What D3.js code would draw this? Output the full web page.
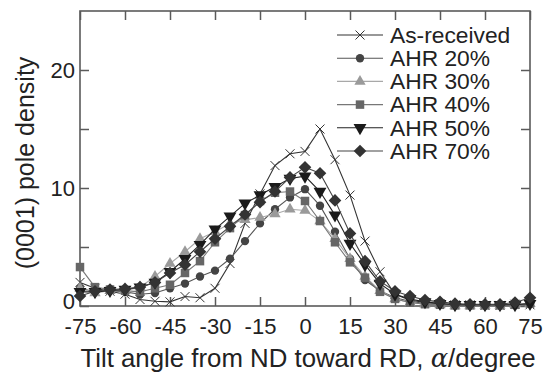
<!DOCTYPE html>
<html><head><meta charset="utf-8">
<script src="https://cdn.jsdelivr.net/npm/d3@7"></script>
<style>body{margin:0;background:#fff}svg{display:block}</style>
</head><body><svg id="c" width="548" height="374" font-family="'Liberation Sans', Arial, sans-serif"></svg>
<script>
const angles = d3.range(-75, 76, 5);
const seriesNames = ["As-received","AHR 20%","AHR 30%","AHR 40%","AHR 50%","AHR 70%"];
const asReceived = [2.0,1.5,1.25,1.0,0.55,0.4,0.35,0.8,0.7,1.5,3.6,7.0,9.5,11.9,12.9,13.1,15.0,12.4,9.4,5.5,2.9,1.0,0.5,0.3,0.2,0.1,0.1,0.05,0.05,0.15,0.1];
const ahr20 = [1.5,1.2,1.3,1.2,1.0,1.1,1.5,1.9,2.5,3.0,4.0,5.5,7.0,8.2,9.2,9.9,8.5,6.3,4.0,2.2,1.3,0.7,0.4,0.2,0.1,0.1,0.05,0.05,0.05,0.1,0.2];
const ahr30 = [1.5,1.1,1.3,1.3,1.6,2.5,3.6,4.6,5.7,6.3,7.0,7.3,7.5,7.8,8.2,8.1,7.2,5.7,4.0,2.5,1.3,0.6,0.3,0.15,0.1,0.05,0.05,0.05,0.05,0.1,0.2];
const ahr40 = [3.3,1.6,1.4,1.3,1.2,1.5,1.8,2.8,3.8,5.4,6.6,7.7,8.9,9.6,9.7,8.9,7.2,5.4,3.7,2.4,1.2,0.6,0.3,0.15,0.1,0.05,0.05,0.05,0.05,0.1,0.2];
const ahr50 = [1.2,1.2,1.3,1.4,1.6,2.0,2.9,4.0,5.2,6.5,7.6,8.7,9.4,10.1,10.8,11.0,9.7,7.7,5.3,3.5,1.9,1.0,0.6,0.35,0.2,0.1,0.1,0.1,0.1,0.1,0.2];
const ahr70 = [0.85,1.25,1.4,1.45,1.6,2.0,2.8,3.5,4.6,5.7,6.75,7.75,8.8,9.7,10.9,11.75,11.25,8.95,6.15,3.8,2.1,1.25,0.85,0.5,0.35,0.2,0.15,0.15,0.15,0.3,0.7];
const xTicks = [-75,-60,-45,-30,-15,0,15,30,45,60,75];
const yTicksLabeled = [0,10,20];
const yTicksAll = [0,5,10,15,20];

const values = [asReceived, ahr20, ahr30, ahr40, ahr50, ahr70];
const lineColors = ["#333","#555","#a8a8a8","#777","#222","#444"];
const markColors = ["#333","#444","#9a9a9a","#666","#1a1a1a","#333"];
const markers = ["x","circle","triUp","square","triDown","diamond"];

const svg = d3.select("#c");
const FF = "'Liberation Sans', Arial, sans-serif";
const L=80,R=530,T=11,B=306;
const x = d3.scaleLinear().domain([-75,75]).range([L,R]);
const y = d3.scaleLinear().domain([0,25]).range([B,T]);

const frameColor="#5a5a5a";
function styleAxis(g){
  g.attr("font-family",FF).attr("font-size",22);
  g.select(".domain").remove();
  g.selectAll("line").attr("stroke",frameColor).attr("stroke-width",1.5);
  g.selectAll("text").attr("fill","#222");
}
svg.append("g").attr("transform",`translate(0,${B})`)
  .call(d3.axisBottom(x).tickValues(xTicks).tickSize(-9).tickPadding(12).tickFormat(d=>String(d)))
  .call(styleAxis);
svg.append("g").attr("transform",`translate(0,${T})`)
  .call(d3.axisTop(x).tickValues(xTicks).tickSize(-9).tickFormat(""))
  .call(styleAxis);
const yAx = svg.append("g").attr("transform",`translate(${L},0)`)
  .call(d3.axisLeft(y).tickValues(yTicksAll).tickSize(-9).tickPadding(5).tickFormat(d=>yTicksLabeled.includes(d)?String(d):""))
  .call(styleAxis);
yAx.selectAll(".tick").filter(d=>d===0).select("text").attr("dy","0.12em");
svg.append("g").attr("transform",`translate(${R},0)`)
  .call(d3.axisRight(y).tickValues(yTicksAll).tickSize(-9).tickFormat(""))
  .call(styleAxis);
svg.append("rect").attr("x",L).attr("y",T).attr("width",R-L).attr("height",B-T)
  .attr("fill","none").attr("stroke",frameColor).attr("stroke-width",1.6);

function markerPath(type){
  const p=d3.path();
  if(type==="x"){const s=4.5;p.moveTo(-s,-s);p.lineTo(s,s);p.moveTo(-s,s);p.lineTo(s,-s);return p.toString();}
  if(type==="circle") return d3.symbol(d3.symbolCircle,55)();
  if(type==="square") return d3.symbol(d3.symbolSquare,72)();
  if(type==="triUp") return d3.symbol(d3.symbolTriangle,55)();
  if(type==="triDown") return d3.symbol(d3.symbolTriangle,72)();
  if(type==="diamond") return d3.symbol(d3.symbolSquare,80)();
}
function markerTransform(type,px,py){
  if(type==="triDown") return `translate(${px},${py}) rotate(180)`;
  if(type==="diamond") return `translate(${px},${py}) rotate(45)`;
  return `translate(${px},${py})`;
}
function drawMarker(g,type,i,px,py){
  const m=g.append("path").attr("d",markerPath(type)).attr("transform",markerTransform(type,px,py));
  if(type==="x") m.attr("fill","none").attr("stroke",markColors[i]).attr("stroke-width",1);
  else m.attr("fill",markColors[i]).attr("stroke","none");
}

const line = d3.line().x(d=>x(d[0])).y(d=>y(d[1]));
values.forEach((vals,i)=>{
  const pts = angles.map((a,j)=>[a,vals[j]]);
  const g=svg.append("g");
  g.append("path").attr("d",line(pts)).attr("fill","none").attr("stroke",lineColors[i]).attr("stroke-width",1.1);
  pts.forEach(p=>drawMarker(g,markers[i],i,x(p[0]),y(p[1])));
});

// legend
const legY0=35, legDy=23.2;
seriesNames.forEach((name,i)=>{
  const cy=legY0+i*legDy;
  const g=svg.append("g");
  g.append("line").attr("x1",337).attr("x2",383).attr("y1",cy).attr("y2",cy).attr("stroke",lineColors[i]).attr("stroke-width",1.1);
  drawMarker(g,markers[i],i,360,cy);
  g.append("text").attr("transform",`translate(390,${cy+7.8}) scale(1.06,1)`).attr("font-size",21.5).attr("fill","#222").text(name);
});

// axis titles
const xt=svg.append("text").attr("transform",`translate(308,367)`).attr("text-anchor","middle").attr("font-size",25.8).attr("fill","#222");
xt.append("tspan").text("Tilt angle from ND toward RD, ");
xt.append("tspan").attr("font-style","italic").attr("font-family","'DejaVu Serif',serif").text("α");
xt.append("tspan").text("/degree");
svg.append("text").attr("transform",`translate(34,163) rotate(-90)`).attr("text-anchor","middle").attr("font-size",25).attr("fill","#222").text("(0001) pole density");
</script></body></html>
